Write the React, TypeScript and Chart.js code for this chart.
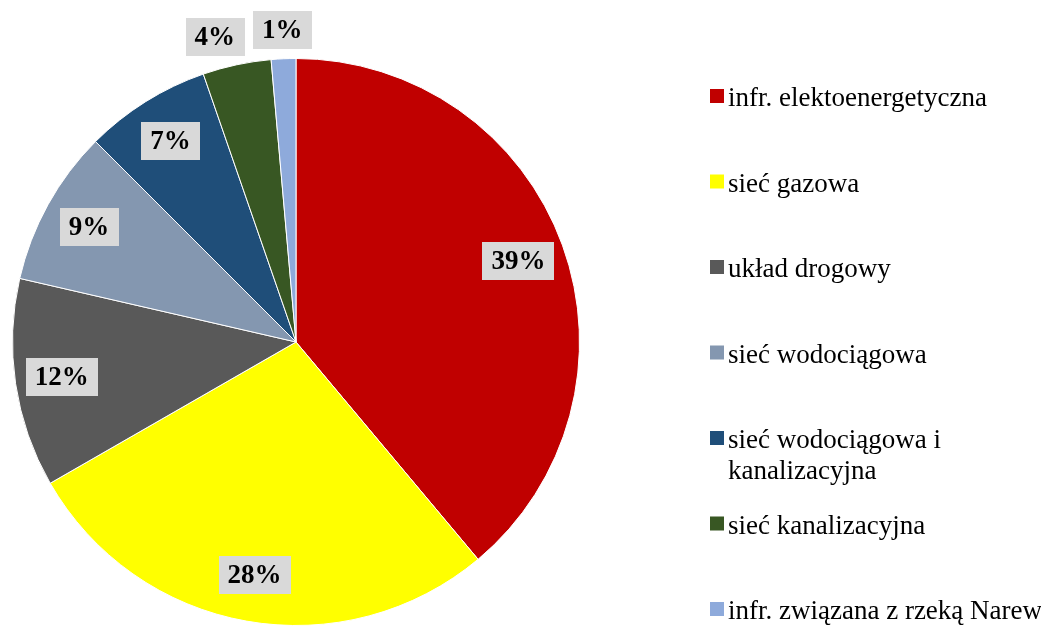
import React, { useEffect, useRef } from "react";
import { Chart, registerables } from "chart.js";

Chart.register(...registerables);

const categories: (string | string[])[] = [
  "infr. elektoenergetyczna",
  "sieć gazowa",
  "układ drogowy",
  "sieć wodociągowa",
  ["sieć wodociągowa i", "kanalizacyjna"],
  "sieć kanalizacyjna",
  "infr. związana z rzeką Narew",
];
const shares = [38.9, 27.8, 11.9, 8.9, 7.2, 3.9, 1.4];
const colors = ["#c00000", "#ffff00", "#595959", "#8497b0", "#1f4e79", "#385723", "#8eaadb"];

const serif = "'Liberation Serif', 'Times New Roman', serif";

const labelPlugin = {
  id: "pctLabels",
  afterDatasetsDraw(chart: any) {
    const ctx = chart.ctx as CanvasRenderingContext2D;
    const meta = chart.getDatasetMeta(0);
    const total = shares.reduce((a, b) => a + b, 0);
    ctx.save();
    ctx.font = `bold 27px ${serif}`;
    ctx.textAlign = "center";
    ctx.textBaseline = "middle";
    const boxes = meta.data.map((arc: any, i: number) => {
      const p = arc.getProps(["x", "y", "startAngle", "endAngle", "outerRadius"], true);
      const mid = (p.startAngle + p.endAngle) / 2;
      const pct = (shares[i] / total) * 100;
      const outside = pct < 5;
      const r = p.outerRadius * (outside ? 1.1 : 0.835);
      const txt = `${Math.round(pct)}%`;
      return {
        cx: p.x + Math.cos(mid) * r,
        cy: p.y + Math.sin(mid) * r,
        txt,
        w: ctx.measureText(txt).width + 18,
        outside,
      };
    });
    for (let i = boxes.length - 2; i >= 0; i--) {
      const a = boxes[i];
      const b = boxes[i + 1];
      if (a.outside && b.outside) {
        const maxRight = b.cx - b.w / 2 - 9;
        if (a.cx + a.w / 2 > maxRight) a.cx = maxRight - a.w / 2;
      }
    }
    boxes.forEach((bx: any) => {
      const h = 38;
      ctx.fillStyle = "#d9d9d9";
      ctx.fillRect(Math.round(bx.cx - bx.w / 2), Math.round(bx.cy - h / 2), Math.round(bx.w), h);
      ctx.fillStyle = "#000000";
      ctx.fillText(bx.txt, bx.cx, bx.cy + 1);
    });
    ctx.restore();
  },
};

const legendPlugin = {
  id: "sideLegend",
  afterDraw(chart: any) {
    const ctx = chart.ctx as CanvasRenderingContext2D;
    const labels = chart.data.labels as (string | string[])[];
    const bg = chart.data.datasets[0].backgroundColor as string[];
    const x0 = 710;
    const y0 = 106;
    const step = 85.5;
    ctx.save();
    ctx.font = `27px ${serif}`;
    ctx.textAlign = "left";
    ctx.textBaseline = "alphabetic";
    labels.forEach((lab, i) => {
      const base = y0 + i * step;
      ctx.fillStyle = bg[i];
      ctx.fillRect(x0, base - 17, 14, 14);
      ctx.fillStyle = "#000000";
      const lines = Array.isArray(lab) ? lab : [lab];
      lines.forEach((ln, j) => ctx.fillText(ln, x0 + 18, base + j * 31));
    });
    ctx.restore();
  },
};

export default function App() {
  const ref = useRef<HTMLCanvasElement | null>(null);
  useEffect(() => {
    if (!ref.current) return;
    const chart = new Chart(ref.current, {
      type: "pie",
      data: {
        labels: categories as any,
        datasets: [
          {
            data: shares,
            backgroundColor: colors,
            borderColor: "#ffffff",
            borderWidth: 1,
          },
        ],
      },
      options: {
        animation: false,
        responsive: true,
        maintainAspectRatio: false,
        layout: { padding: { top: 58, bottom: 0, left: 12, right: 461 } },
        plugins: {
          legend: { display: false },
          tooltip: { enabled: false },
        },
      },
      plugins: [labelPlugin, legendPlugin],
    });
    return () => chart.destroy();
  }, []);
  return (
    <div style={{ position: "fixed", left: 0, top: 0, width: 1041, height: 626, background: "#ffffff" }}>
      <canvas ref={ref} />
    </div>
  );
}
